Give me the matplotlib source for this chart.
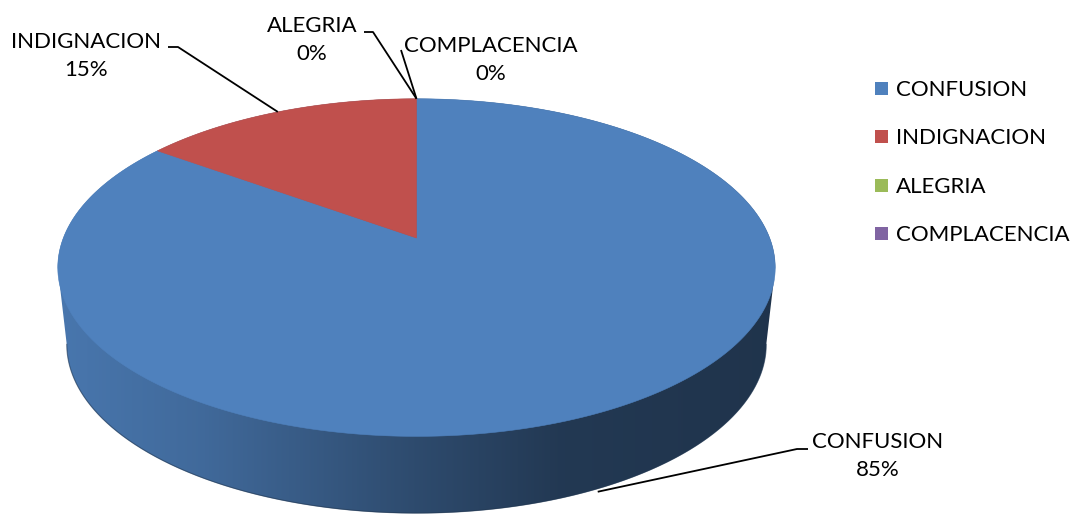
import numpy as np
import matplotlib
matplotlib.use("Agg")
import matplotlib.pyplot as plt
from matplotlib.patches import Polygon, Rectangle

# data
categories = ["CONFUSION", "INDIGNACION", "ALEGRIA", "COMPLACENCIA"]
values = [85, 15, 0, 0]
colors = ["#4f81bd", "#c0504d", "#9bbb59", "#8064a2"]

# label placement (pixel coords, y down)
label_pos = [(878, 456), (86, 56), (312, 40), (491, 60)]
leader_elbows = [[(808, 449), (797, 449)],
                 [(168, 47), (178, 47)],
                 [(364, 32), (373, 32)],
                 [(401, 50)]]

# fake 3d pie: a tilted disc seen in perspective
CX, CY = 416.5, 238.0
TILT = np.radians(27.6)
DIST = 5.06
FOCAL = 1787.0
THICK = 77.0
BOTTOM_SQUEEZE = 0.975  # lower rim looks a bit narrower


def rim(theta_deg):
    """Top rim point for angle measured clockwise from 12 o'clock."""
    t = np.radians(np.asarray(theta_deg, dtype=float))
    x = np.sin(t)
    z = np.cos(t)
    yc = z * np.sin(TILT)
    zc = z * np.cos(TILT) + DIST
    return CX + FOCAL * x / zc, CY - FOCAL * yc / zc


def lower_rim(theta_deg):
    x, y = rim(theta_deg)
    return CX + (x - CX) * BOTTOM_SQUEEZE, y + THICK


def side_shade(px, base):
    f = np.interp(px, [58, 200, 416, 560, 780], [0.92, 0.82, 0.58, 0.44, 0.40])
    rgb = np.array(matplotlib.colors.to_rgb(base))
    return np.clip(np.outer(f, rgb), 0, 1)


fig = plt.figure(figsize=(10.73, 5.15), dpi=100)
plt.rcParams['font.family'] = ['Lato', 'DejaVu Sans']
ax = fig.add_axes([0, 0, 1, 1])

total = float(sum(values))
bounds = np.concatenate([[0], np.cumsum(values)]) / total * 360.0

# side wall: outline of the disc swept down, filled with a gradient
th = np.linspace(0, 360, 2881)[:-1]
rx, ry = rim(th)
bx, by = lower_rim(th)
iL, iR = int(np.argmin(rx)), int(np.argmax(rx))
top_idx = list(range(iL, len(th))) + list(range(0, iR + 1))
bot_idx = list(range(iR, iL + 1))
outline = [(rx[k], ry[k]) for k in top_idx] + [(bx[k], by[k]) for k in bot_idx]
side_patch = Polygon(outline, closed=True, facecolor='none', edgecolor='none')
ax.add_patch(side_patch)

# the front wall belongs to whichever slice covers 6 o'clock
front = int(np.searchsorted(bounds, 180.0, side='right')) - 1
cols = np.arange(0, 1073) + 0.5
grad = side_shade(cols, colors[front])[np.newaxis, :, :]
img = ax.imshow(grad, extent=(0, 1073, 515, 0), aspect='auto', interpolation='bilinear')
img.set_clip_path(side_patch)
# soften the lower edge
ax.plot(bx[bot_idx], by[bot_idx] - 0.3, lw=0.8, color=side_shade([600], colors[front])[0], alpha=0.6)

# top faces
for i, col in enumerate(colors):
    a0, a1 = bounds[i], bounds[i + 1]
    if a1 - a0 <= 0:
        continue
    t = np.linspace(a0, a1, max(int((a1 - a0) * 3), 2))
    xs, ys = rim(t)
    pts = [(CX, CY)] + list(zip(xs, ys))
    ax.add_patch(Polygon(pts, closed=True, facecolor=col, edgecolor=col, linewidth=0.4))

# data labels with leader lines
for i, name in enumerate(categories):
    mid = (bounds[i] + bounds[i + 1]) / 2
    if 90 < mid < 270:
        axp, ayp = lower_rim(mid)
        anchor = (float(axp) - 4, float(ayp) + 4)
    else:
        axp, ayp = rim(mid)
        anchor = (float(axp), float(ayp))
    path = leader_elbows[i] + [anchor]
    ax.plot([p[0] for p in path], [p[1] for p in path], color='black', lw=1.3,
            solid_capstyle='butt')
    pct = values[i] / total * 100
    ax.text(label_pos[i][0], label_pos[i][1], f"{name}\n{pct:.0f}%", ha='center',
            va='center', multialignment='center', fontsize=16, linespacing=1.45)

# legend
for i, name in enumerate(categories):
    y = 88.5 + 48.3 * i
    ax.add_patch(Rectangle((875, y - 6.5), 13, 13, facecolor=colors[i], edgecolor='none'))
    ax.text(896, y + 1.5, name, ha='left', va='center', fontsize=16)

ax.set_xlim(0, 1073)
ax.set_ylim(515, 0)
ax.axis('off')

plt.savefig('out.png', dpi=100)
plt.close()
